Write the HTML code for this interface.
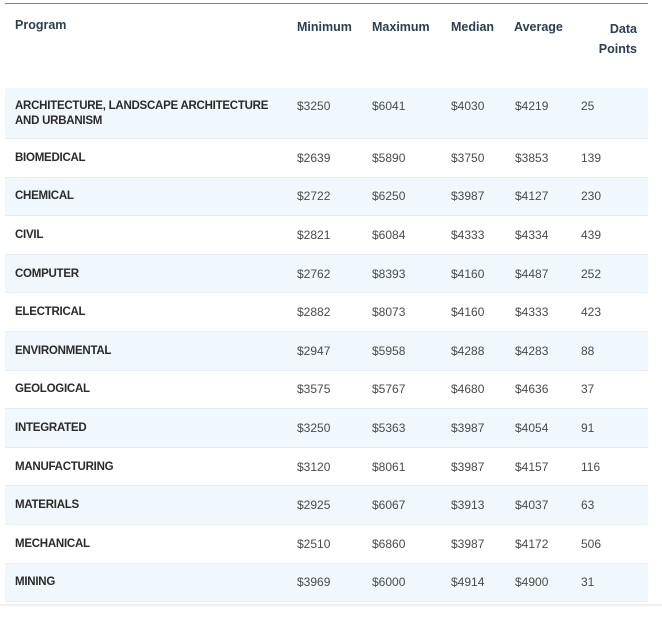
<!DOCTYPE html>
<html><head><meta charset="utf-8"><style>
body{margin:0;width:662px;height:624px;background:#fff;position:relative;overflow:hidden;font-family:"Liberation Sans",sans-serif;}
.hdr{position:absolute;left:5px;top:3px;width:643px;height:84px;border-top:1px solid #75868c;border-bottom:1px solid #8a9aa0;}
.h{position:absolute;font-size:12.5px;font-weight:bold;color:#2c3e50;}
.row{position:absolute;left:5px;width:643px;border-bottom:1px solid #e6eef3;}
.row.b{background:#f0f8fd;}
.c{position:absolute;font-size:12px;color:#4a4a4a;}
.p{position:absolute;left:10px;font-size:11.5px;color:#2a2a2a;font-weight:bold;letter-spacing:-0.25px;line-height:15px;}
</style></head><body>
<div class="hdr">
<div class="h" style="left:10px;top:14px">Program</div>
<div class="h" style="left:292px;top:16px">Minimum</div>
<div class="h" style="left:367px;top:16px">Maximum</div>
<div class="h" style="left:446px;top:16px">Median</div>
<div class="h" style="left:509px;top:16px">Average</div>
<div class="h" style="right:11px;top:15px;text-align:right;line-height:20px">Data<br>Points</div>
</div>
<div id="rows"></div>
<div style="position:absolute;left:0;top:604px;width:662px;height:3px;background:linear-gradient(#e8e8e8,#fff)"></div>
<script>
const programs=["ARCHITECTURE, LANDSCAPE ARCHITECTURE<br>AND URBANISM","BIOMEDICAL","CHEMICAL","CIVIL","COMPUTER","ELECTRICAL","ENVIRONMENTAL","GEOLOGICAL","INTEGRATED","MANUFACTURING","MATERIALS","MECHANICAL","MINING"];
const minimum=[3250,2639,2722,2821,2762,2882,2947,3575,3250,3120,2925,2510,3969];
const maximum=[6041,5890,6250,6084,8393,8073,5958,5767,5363,8061,6067,6860,6000];
const median=[4030,3750,3987,4333,4160,4160,4288,4680,3987,3987,3913,3987,4914];
const average=[4219,3853,4127,4334,4487,4333,4283,4636,4054,4157,4037,4172,4900];
const points=[25,139,230,439,252,423,88,37,91,116,63,506,31];
const wrap=document.getElementById('rows');
const cols=[292,367,446,510,576];
let y=88;
programs.forEach((p,i)=>{
  const h=i===0?51:38.6;
  const r=document.createElement('div');
  r.className='row'+(i%2===0?' b':'');
  
  
  r.style.top=y+'px';r.style.height=(h-1)+'px';
  const mid=(h-1)/2;
  const pe=document.createElement('div');
  pe.className='p';pe.innerHTML=p;
  
  
  pe.style.top=(i===0?11:mid-7)+'px';
  r.appendChild(pe);
  const vals=['$'+minimum[i],'$'+maximum[i],'$'+median[i],'$'+average[i],String(points[i])];
  vals.forEach((v,j)=>{
    const c=document.createElement('div');
    c.className='c';c.textContent=v;
    
    
    c.style.left=cols[j]+'px';
    c.style.top=(i===0?11:mid-7)+'px';
    r.appendChild(c);
  });
  wrap.appendChild(r);
  y+=h;
});
</script>
</body></html>
